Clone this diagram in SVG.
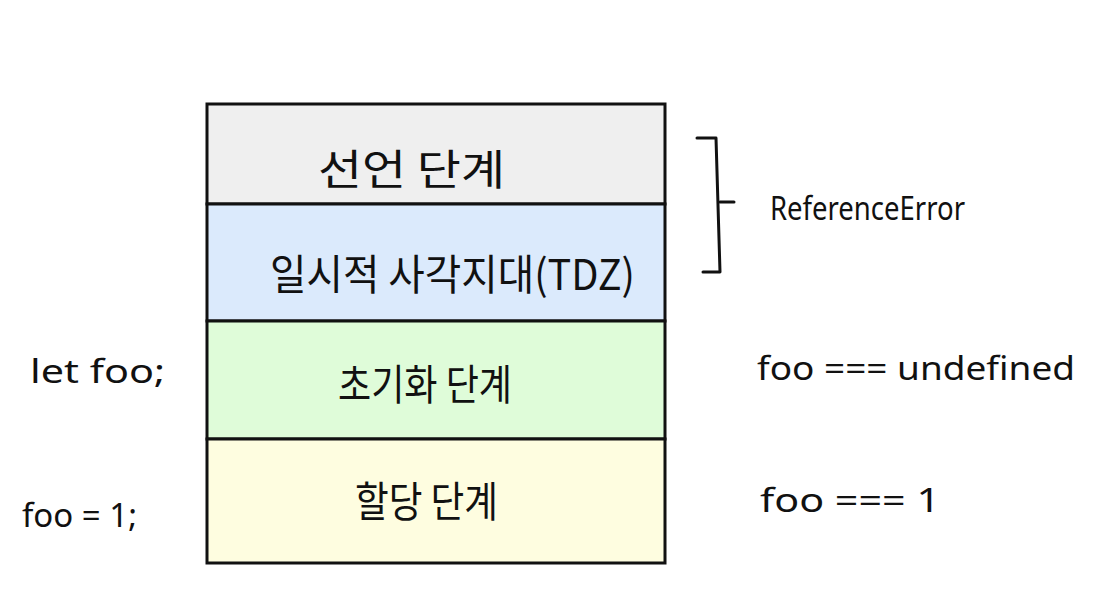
<svg xmlns="http://www.w3.org/2000/svg" width="1118" height="609" viewBox="0 0 1118 609">
<style>
.lbl{font-family:"Noto Sans CJK KR","Noto Sans",sans-serif;font-size:42px;fill:#111}
.side{font-family:"Noto Sans","Noto Sans CJK KR",sans-serif;font-size:33px;fill:#111}
.box{stroke:#111;stroke-width:3}
.ln{stroke:#111;stroke-width:3;fill:none;stroke-linecap:round;stroke-linejoin:round}
</style>
<rect width="1118" height="609" fill="#fff"/>
<g id="declare">
<rect class="box" x="207" y="104" width="458" height="100" fill="#efefef"/>
<text class="lbl" x="318" y="185" textLength="187" lengthAdjust="spacingAndGlyphs">선언 단계</text>
</g>
<g id="tdz">
<rect class="box" x="207" y="204" width="458" height="117" fill="#dbeafc"/>
<text class="lbl" x="270" y="290" textLength="365" lengthAdjust="spacingAndGlyphs">일시적 사각지대(TDZ)</text>
</g>
<g id="init">
<rect class="box" x="207" y="321" width="458" height="118" fill="#dffcd9"/>
<text class="lbl" x="338" y="400" textLength="174" lengthAdjust="spacingAndGlyphs">초기화 단계</text>
</g>
<g id="assign">
<rect class="box" x="207" y="439" width="458" height="124" fill="#fefde0"/>
<text class="lbl" x="355" y="517" textLength="143" lengthAdjust="spacingAndGlyphs">할당 단계</text>
</g>
<g id="connectors">
<path class="ln" d="M697 138 H716 L720 272 H703"/>
<path class="ln" d="M720 202 H734"/>
</g>
<g id="refError">
<text class="side" x="770" y="220" textLength="195" lengthAdjust="spacingAndGlyphs">ReferenceError</text>
</g>
<g id="left-labels">
<text class="side" x="30" y="383" textLength="135" lengthAdjust="spacingAndGlyphs">let foo;</text>
<text class="side" x="22" y="527" textLength="115" lengthAdjust="spacingAndGlyphs">foo = 1;</text>
</g>
<g id="right-labels">
<text class="side" x="757" y="380" textLength="318" lengthAdjust="spacingAndGlyphs">foo === undefined</text>
<text class="side" x="760" y="512" textLength="180" lengthAdjust="spacingAndGlyphs">foo === 1</text>
</g>
</svg>
